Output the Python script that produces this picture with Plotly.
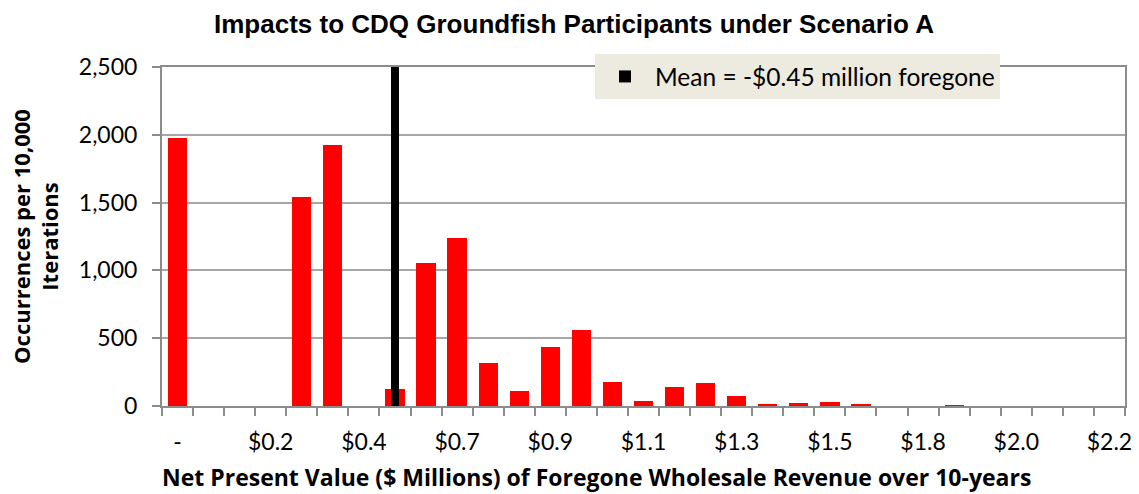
import plotly.graph_objects as go

# Data
bin_index = list(range(31))
occurrences = [1980, 0, 0, 0, 1540, 1925, 0, 123, 1054, 1237, 317, 110, 433, 558,
               177, 39, 140, 172, 74, 15, 20, 30, 15, 0, 0, 2, 0, 0, 0, 0, 0]
label_positions = [0, 3, 6, 9, 12, 15, 18, 21, 24, 27, 30]
tick_labels = ["-", "$0.2", "$0.4", "$0.7", "$0.9", "$1.1", "$1.3", "$1.5", "$1.8", "$2.0", "$2.2"]
mean_position = [7.0]
mean_height = [2500]
mean_label = "Mean = -$0.45 million foregone"
x_title = "Net Present Value ($ Millions) of Foregone Wholesale Revenue over 10-years"

BODY_FONT = "Lato, Carlito, Calibri, 'Open Sans', sans-serif"
AXTITLE_FONT = "'Open Sans', Lato, sans-serif"
TITLE_FONT = "'Liberation Sans Narrow', 'Arial Narrow', 'Liberation Sans', Arial, sans-serif"
GRID = "#A6A6A6"
AXIS = "#8C8C8C"

fig = go.Figure()
fig.add_trace(go.Bar(
    x=bin_index, y=occurrences, width=0.62,
    marker=dict(color="#FF0000", line=dict(width=0)),
    showlegend=False, name="Occurrences",
))
fig.add_trace(go.Bar(
    x=mean_position, y=mean_height, width=0.26,
    marker=dict(color="#000000", line=dict(width=0)),
    name=mean_label, showlegend=True,
))

fig.update_layout(
    width=1139, height=494,
    margin=dict(l=162, r=14, t=67, b=88, autoexpand=False),
    paper_bgcolor="white", plot_bgcolor="white",
    barmode="overlay",
    title=dict(text="<b>Impacts to CDQ Groundfish Participants under Scenario A</b>",
               x=574 / 1139, xanchor="center", xref="container",
               y=1 - 24 / 494, yanchor="middle", yref="container",
               font=dict(family=TITLE_FONT, size=26, color="black")),
    font=dict(family=BODY_FONT, color="black"),
    legend=dict(xref="container", yref="container",
                x=595 / 1139, y=1 - 54 / 494, xanchor="left", yanchor="top",
                bgcolor="#EDEBE0", borderwidth=0,
                font=dict(family=BODY_FONT, size=24.5, color="black"),
                itemwidth=50, tracegroupgap=0),
    bargap=0,
    annotations=[dict(
        text="<b>" + x_title + "</b>", xref="paper", yref="paper",
        x=(596 - 162) / 963, y=-(477 - 406) / 339, xanchor="center", yanchor="middle",
        showarrow=False, font=dict(family=AXTITLE_FONT, size=23, color="black"),
    )],
)

fig.update_xaxes(
    range=[-0.5, 30.5], automargin=False,
    tickmode="array", tickvals=label_positions, ticktext=tick_labels,
    ticks="", ticklabelstandoff=14, showgrid=False, zeroline=False,
    showline=True, linecolor=AXIS, linewidth=2, mirror=True,
    tickfont=dict(family=BODY_FONT, size=23, color="black"),
    minor=dict(tick0=-0.5, dtick=1, ticks="outside", ticklen=8, tickcolor=AXIS,
               tickwidth=2, showgrid=False),
    fixedrange=True,
)

fig.update_yaxes(
    range=[0, 2500], dtick=500, tickformat=",", automargin=False,
    showgrid=True, gridcolor=GRID, gridwidth=2,
    zeroline=False,
    showline=True, linecolor=AXIS, linewidth=2, mirror=True,
    ticks="outside", ticklen=8, tickcolor=AXIS, tickwidth=2, ticklabelstandoff=10,
    tickfont=dict(family=BODY_FONT, size=23, color="black"),
    title=dict(text="<b>Occurrences per 10,000<br>Iterations</b>",
               font=dict(family=AXTITLE_FONT, size=22, color="black"), standoff=14),
    fixedrange=True,
)

fig.write_html("out.html", config={"displayModeBar": False},
               post_script="document.body.style.margin='0';document.body.style.padding='0';")
